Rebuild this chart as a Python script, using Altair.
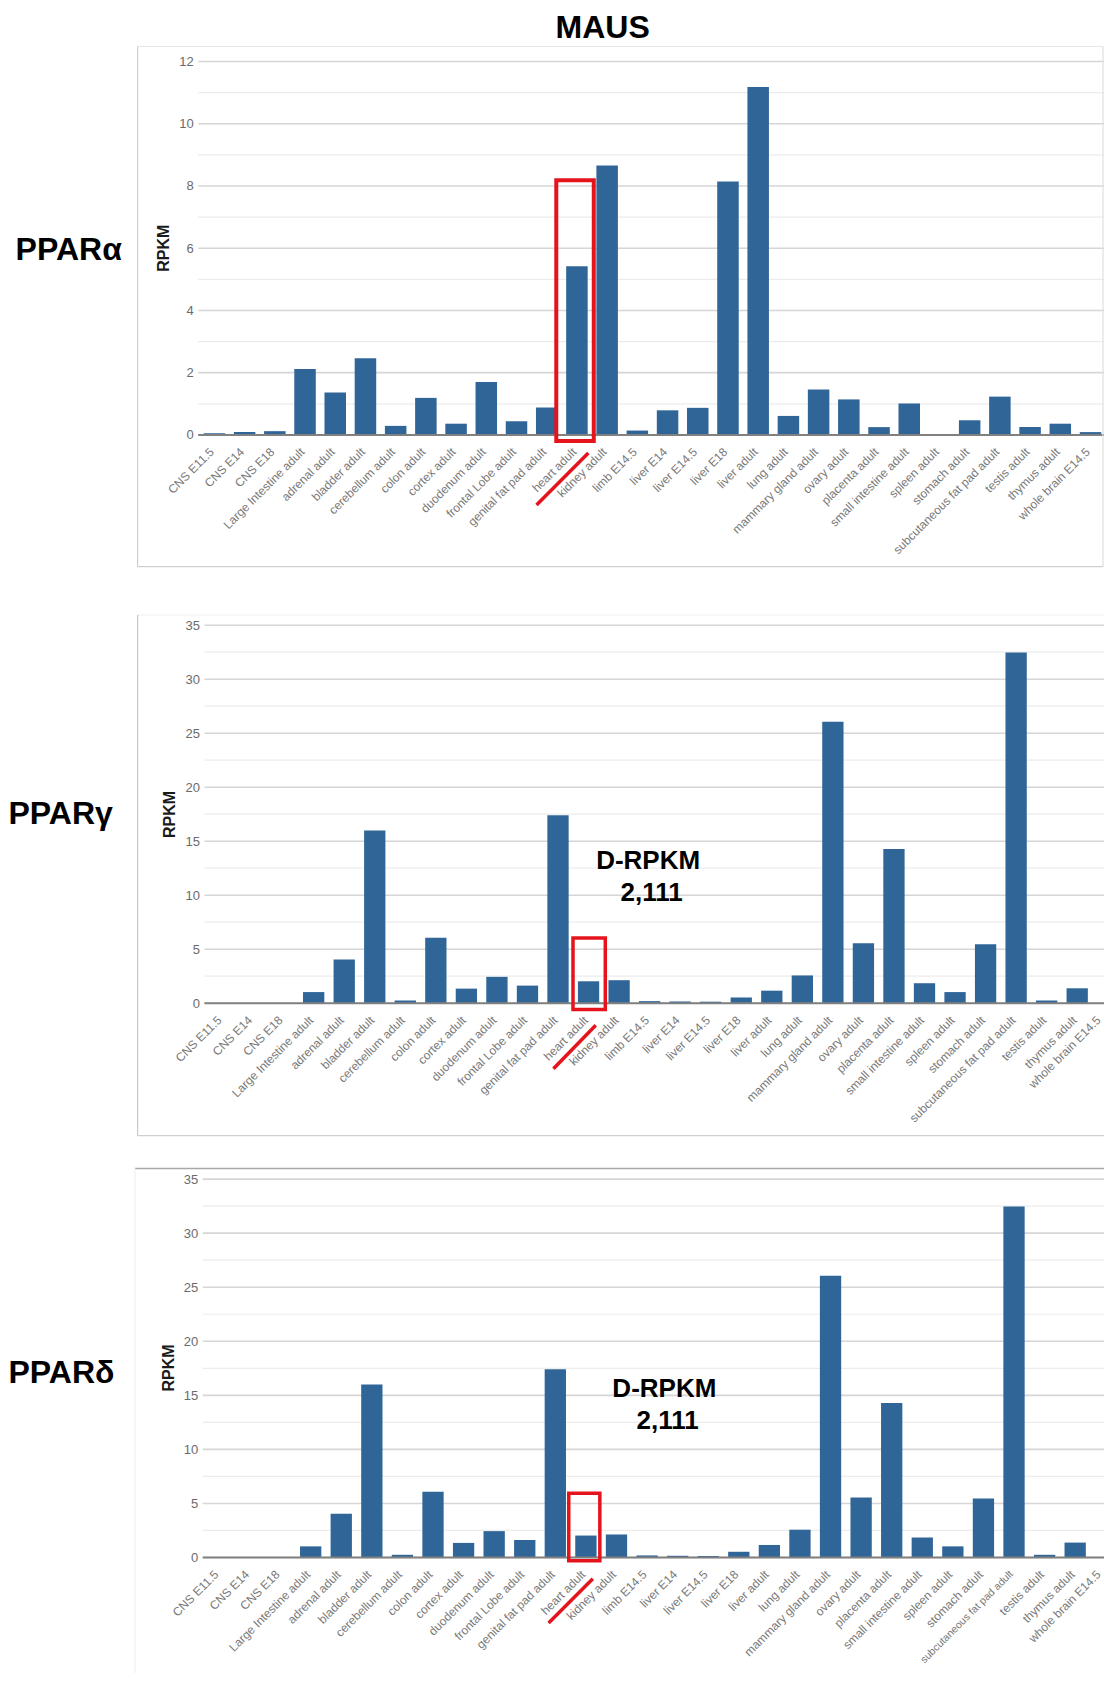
import altair as alt
import pandas as pd

FONT = "Liberation Sans"
BLUE = "#306598"
RED = "#e5141c"
LABEL_GREY = "#787878"

tissues = ["CNS E11.5", "CNS E14", "CNS E18", "Large Intestine adult", "adrenal adult",
           "bladder adult", "cerebellum adult", "colon adult", "cortex adult", "duodenum adult",
           "frontal Lobe adult", "genital fat pad adult", "heart adult", "kidney adult",
           "limb E14.5", "liver E14", "liver E14.5", "liver E18", "liver adult", "lung adult",
           "mammary gland adult", "ovary adult", "placenta adult", "small intestine adult",
           "spleen adult", "stomach adult", "subcutaneous fat pad adult", "testis adult",
           "thymus adult", "whole brain E14.5"]

ppar_alpha = [0.05, 0.09, 0.12, 2.12, 1.36, 2.46, 0.29, 1.19, 0.36, 1.70, 0.44, 0.88, 5.42, 8.66,
              0.14, 0.79, 0.87, 8.14, 11.18, 0.61, 1.46, 1.14, 0.25, 1.01, 0.02, 0.47, 1.23,
              0.25, 0.36, 0.09]
ppar_gamma = [0, 0.01, 0.02, 1.03, 4.04, 16.0, 0.25, 6.07, 1.35, 2.44, 1.63, 17.41, 2.03, 2.13,
              0.19, 0.16, 0.14, 0.53, 1.16, 2.57, 26.05, 5.54, 14.28, 1.85, 1.03, 5.45, 32.47,
              0.25, 1.38, 0]
ppar_delta = [0, 0.01, 0.02, 1.03, 4.04, 16.0, 0.25, 6.07, 1.35, 2.44, 1.63, 17.41, 2.03, 2.13,
              0.19, 0.16, 0.14, 0.53, 1.16, 2.57, 26.05, 5.54, 14.28, 1.85, 1.03, 5.45, 32.47,
              0.25, 1.38, 0]

alpha_major = [0, 2, 4, 6, 8, 10, 12]
alpha_minor = [1, 3, 5, 7, 9, 11]
gamma_major = [0, 5, 10, 15, 20, 25, 30, 35]
gamma_minor = [2.5, 7.5, 12.5, 17.5, 22.5, 27.5, 32.5]

highlight = "heart adult"
note_anchor = "limb E14.5"
note_lines = ["D-RPKM", "2,111"]

ONE = pd.DataFrame({"a": [0]})
M = 8            # page margin: view coordinates = page coordinates - M
VIEW_W = 1096
VIEW_H = 1665


def v(p):
    return p - M


def panel(values, gene, major, minor, ymax, L, T, B, grid_right, rng, pi, po,
          box, slash, notes, frames, gene_pos, rpkm_pos, last_shift, long_size, title_text=None):
    xscale = alt.Scale(domain=tissues, paddingInner=pi, paddingOuter=po, range=[v(L), v(L) + rng])
    yscale = alt.Scale(domain=[0, ymax], nice=False, zero=True, range=[v(B), v(T)])

    yaxis = alt.Axis(
        title=None, values=major, grid=False, orient="left", offset=-v(L),
        ticks=False, domain=False, labelPadding=5, labelFontSize=13,
        labelColor="#6b6b6b", labelFont=FONT)

    def X(f):
        return alt.X(f, scale=xscale, axis=None)

    def Y(f):
        return alt.Y(f, scale=yscale, axis=yaxis)

    layers = []
    # gridlines
    layers.append(alt.Chart(pd.DataFrame({"v": minor})).mark_rule(color="#ececec", strokeWidth=1.2).encode(
        y=Y("v:Q"), x=alt.value(v(L)), x2=alt.value(v(grid_right))))
    layers.append(alt.Chart(pd.DataFrame({"v": major})).mark_rule(color="#d6d6d6", strokeWidth=1.6).encode(
        y=Y("v:Q"), x=alt.value(v(L)), x2=alt.value(v(grid_right))))

    df = pd.DataFrame({"tissue": tissues, "rpkm": values})
    layers.append(alt.Chart(df).transform_filter("datum.rpkm > 0").mark_bar(color=BLUE).encode(
        x=X("tissue:N"), y=Y("rpkm:Q")))
    layers.append(alt.Chart(pd.DataFrame({"v": [0]})).mark_rule(color="#808080", strokeWidth=2).encode(
        y=Y("v:Q"), x=alt.value(v(L)), x2=alt.value(v(grid_right))))

    # category labels (rotated)
    longest = "subcutaneous fat pad adult"
    lab = pd.DataFrame({"tissue": [t for t in tissues[:-1] if t != longest]})
    layers.append(alt.Chart(lab).mark_text(angle=315, align="right", baseline="middle", fontSize=12,
                                           font=FONT, color=LABEL_GREY, xOffset=-2.5).encode(
        x=X("tissue:N"), y=alt.value(v(B) + 15), text="tissue:N"))
    lab_long = pd.DataFrame({"tissue": [longest]})
    layers.append(alt.Chart(lab_long).mark_text(angle=315, align="right", baseline="middle",
                                                fontSize=long_size, font=FONT, color=LABEL_GREY,
                                                xOffset=-2.5).encode(
        x=X("tissue:N"), y=alt.value(v(B) + 15), text="tissue:N"))
    lab_last = pd.DataFrame({"tissue": tissues[-1:]})
    layers.append(alt.Chart(lab_last).mark_text(angle=315, align="right", baseline="middle", fontSize=12,
                                                font=FONT, color=LABEL_GREY,
                                                xOffset=-2.5 + last_shift).encode(
        x=X("tissue:N"), y=alt.value(v(B) + 15), text="tissue:N"))

    # red highlight box
    lo, hi, bw, xo, sw = box
    boxdf = pd.DataFrame({"tissue": [highlight], "lo": [lo], "hi": [hi]})
    layers.append(alt.Chart(boxdf).mark_bar(width=bw, fillOpacity=0, stroke=RED, strokeWidth=sw,
                                            xOffset=xo).encode(
        x=X("tissue:N"), y=Y("lo:Q"), y2="hi:Q"))

    # red slash under the label
    y1, y2, xo1, xo2 = slash
    sdf = pd.DataFrame({"tissue": [highlight], "ya": [y1], "yb": [y2]})
    layers.append(alt.Chart(sdf).mark_rule(color=RED, strokeWidth=3.5, xOffset=xo1, x2Offset=xo2).encode(
        x=X("tissue:N"), x2="tissue:N", y=Y("ya:Q"), y2="yb:Q"))

    # notes
    for (txt, yv, dx) in notes:
        ndf = pd.DataFrame({"tissue": [note_anchor], "y": [yv], "t": [txt]})
        layers.append(alt.Chart(ndf).mark_text(fontSize=26, fontWeight="bold", font=FONT, color="#000",
                                               align="center", baseline="alphabetic", dx=dx).encode(
            x=X("tissue:N"), y=Y("y:Q"), text="t:N"))

    # frame lines
    for (x1, y1p, x2, y2p, col, w) in frames:
        layers.append(alt.Chart(ONE).mark_rule(color=col, strokeWidth=w).encode(
            x=alt.value(v(x1)), x2=alt.value(v(x2)), y=alt.value(v(y1p)), y2=alt.value(v(y2p))))

    # axis title
    rx, ry = rpkm_pos
    layers.append(alt.Chart(ONE).mark_text(text="RPKM", angle=270, align="center", baseline="middle",
                                           fontSize=16, fontWeight="bold", font=FONT, color="#1a1a1a").encode(
        x=alt.value(v(rx)), y=alt.value(v(ry))))

    # gene label
    gx, gy = gene_pos
    layers.append(alt.Chart(ONE).mark_text(text=gene, align="left", baseline="alphabetic", fontSize=32,
                                           fontWeight="bold", font=FONT, color="#000").encode(
        x=alt.value(v(gx)), y=alt.value(v(gy))))
    if title_text is not None:
        layers.append(alt.Chart(ONE).mark_text(text=title_text[0], align="center", baseline="alphabetic",
                                               fontSize=32, fontWeight="bold", font=FONT, color="#000").encode(
            x=alt.value(v(title_text[1])), y=alt.value(v(title_text[2]))))

    return alt.layer(*layers)


p1 = panel(ppar_alpha, "PPARα", alpha_major, alpha_minor, 12,
           L=198.2, T=61.5, B=434.9, grid_right=1106.7, rng=908.5, pi=0.288, po=0.18,
           box=(-0.2, 8.18, 37.5, -1.9, 4), slash=(-2.25, -0.585, -40.4, 11.4), notes=[],
           frames=[(137.6, 46.5, 1103, 46.5, "#e6e6e6", 1.2),
                   (137.6, 46.5, 137.6, 566.7, "#cfcfcf", 1.2),
                   (137.6, 566.7, 1103, 566.7, "#cfcfcf", 1.2),
                   (1103, 46.5, 1103, 566.7, "#e0e0e0", 1.2)],
           gene_pos=(15.6, 260), rpkm_pos=(164, 248.3), last_shift=0, long_size=12,
           title_text=("MAUS", 602.7, 37.5))

p2 = panel(ppar_gamma, "PPARγ", gamma_major, gamma_minor, 35,
           L=204.5, T=625.2, B=1003.2, grid_right=1112, rng=920.8, pi=0.3025, po=0.226,
           box=(-0.58, 6.04, 32.3, 0.6, 3.5), slash=(-6.07, -2.04, -35.1, 7.2),
           notes=[(note_lines[0], 12.46, -1.5), (note_lines[1], 9.49, 2)],
           frames=[(137.6, 615, 1112, 615, "#efefef", 1.2),
                   (137.6, 615, 137.6, 1135.7, "#c8c8c8", 1.2),
                   (137.6, 1135.7, 1112, 1135.7, "#cfcfcf", 1.2)],
           gene_pos=(8.5, 824), rpkm_pos=(170.4, 814.4), last_shift=-6.5, long_size=12)

p3 = panel(ppar_delta, "PPARδ", gamma_major, gamma_minor, 35,
           L=202.7, T=1179.1, B=1557.5, grid_right=1112, rng=919.3, pi=0.3035, po=0.183,
           box=(-0.31, 5.95, 31.1, -1.6, 3.5), slash=(-6.05, -1.96, -37.3, 6.9),
           notes=[(note_lines[0], 14.89, 17.3), (note_lines[1], 11.85, 20.5)],
           frames=[(135, 1168.4, 1112, 1168.4, "#a8a8a8", 1.5),
                   (135, 1168.4, 135, 1686, "#f0f0f0", 1.2)],
           gene_pos=(8.5, 1383.3), rpkm_pos=(168.8, 1368), last_shift=-4.5, long_size=10.5)

chart = alt.layer(p1, p2, p3).resolve_scale(x="independent", y="independent").resolve_axis(
    x="independent", y="independent"
).properties(
    width=VIEW_W, height=VIEW_H, padding=0, background="white",
    autosize=alt.AutoSizeParams(type="none")
).configure(font=FONT).configure_view(strokeWidth=0, stroke="transparent")

chart.save("out.html", embed_options={"renderer": "svg", "actions": False})
